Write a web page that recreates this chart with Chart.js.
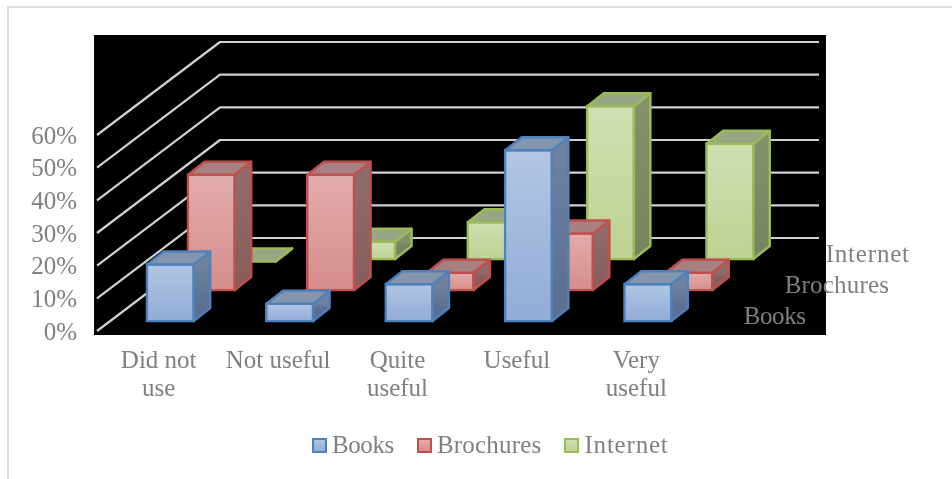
<!DOCTYPE html>
<html>
<head>
<meta charset="utf-8">
<title>Usefulness of sources</title>
<script src="https://cdn.jsdelivr.net/npm/chart.js@4/dist/chart.umd.min.js"></script>
<style>
    html, body { margin: 0; padding: 0; background: #fff; overflow: hidden; }
    #frame { position: absolute; left: 7px; top: 6px; width: 945px; height: 473px; border-top: 2px solid #dcdcdc; border-left: 2px solid #dcdcdc; box-sizing: border-box; }
    #chart { position: absolute; left: 0; top: 0; }
    #legend { position: absolute; left: 312px; top: 428px; display: flex; font: 25px "Liberation Serif", serif; color: #808080; line-height: 34px; }
    #legend span.item { display: flex; align-items: center; margin-right: 23px; }
    #legend i { display: block; width: 15px; height: 15px; box-sizing: border-box; border: 2px solid; margin-right: 5px; }
</style>
</head>
<body>
<div id="frame"></div>
<canvas id="chart" width="952" height="479"></canvas>
<div id="legend"></div>
<script>
// data
const categories = [['Did not', 'use'], 'Not useful', ['Quite', 'useful'], 'Useful', ['Very', 'useful']];
const seriesNames = ['Books', 'Brochures', 'Internet'];
const books = [18, 6, 12, 53, 12];
const brochures = [36, 36, 6, 18, 6];
const internet = [0, 6, 12, 47.5, 36];

// front face top/bottom, side top/bottom, lid, outline
const PALETTE = [
    { top: '#b2c6e4', bottom: '#92acd6', sideTop: '#6f819d', sideBottom: '#5b6f90', lid: '#8495ae', line: '#4f81bd' },
    { top: '#e2adac', bottom: '#d58d8b', sideTop: '#8f6c6b', sideBottom: '#875e5c', lid: '#a78182', line: '#c0504d' },
    { top: '#d1dfb3', bottom: '#bcd292', sideTop: '#83906c', sideBottom: '#768560', lid: '#98a684', line: '#9bbb59' }
];

const FONT = { family: '"Liberation Serif", serif', size: 25, lineHeight: 1.12 };
const TEXT = '#808080';
const NAME_SPACING = ['-0.4px', '0.2px', '0.8px']; // the serif here runs a little narrower than the original
const LIFT = -2;                         // marks sit slightly above the tick label centres
const WALL = { dx: 123, dy: -93 };       // how far the back wall sits from the front edge
const ROW = (i) => (i + 0.285) / 3;      // where a series row sits along that depth
const BOX = { dx: 16.5, dy: -13 };       // depth of one bar
const EDGE = 2.5;

function rowShift(i) {
    return { x: WALL.dx * ROW(i), y: WALL.dy * ROW(i) + LIFT };
}

function faceGradient(c, pal) {
    const chart = c.chart;
    if (!chart.chartArea || c.raw === undefined) return pal.top;
    const y = chart.scales.y;
    const g = chart.ctx.createLinearGradient(0, y.getPixelForValue(c.raw), 0, y.getPixelForValue(0));
    g.addColorStop(0, pal.top);
    g.addColorStop(1, pal.bottom);
    return g;
}

const depthPlugin = {
    id: 'depth',
    beforeDraw(chart) {
        const { ctx, chartArea: a } = chart;
        ctx.save();
        ctx.fillStyle = '#000';
        ctx.fillRect(a.left - 5, 35, a.right + 130 - (a.left - 5), a.bottom + 2 - 35);
        ctx.restore();
    },
    beforeDatasetsDraw(chart) {
        const { ctx, chartArea: a, scales } = chart;
        ctx.save();
        ctx.strokeStyle = '#d0d0d0';
        ctx.lineWidth = 2.2;
        ctx.lineJoin = 'round';
        scales.y.ticks.forEach(t => {
            const y = scales.y.getPixelForValue(t.value) + LIFT;
            ctx.beginPath();
            ctx.moveTo(a.left - 2, y);
            ctx.lineTo(a.left - 2 + WALL.dx, y + WALL.dy);
            ctx.lineTo(a.right + WALL.dx, y + WALL.dy);
            ctx.stroke();
        });
        ctx.restore();
    },
    beforeDatasetDraw(chart, args) {
        const s = rowShift(args.index);
        chart.ctx.save();
        chart.ctx.translate(s.x, s.y);
    },
    afterDatasetDraw(chart, args) {
        const ctx = chart.ctx;
        const pal = PALETTE[args.index];
        ctx.strokeStyle = pal.line;
        ctx.lineWidth = EDGE;
        ctx.lineJoin = 'round';
        args.meta.data.forEach(bar => {
            const { x, y, base, width } = bar.getProps(['x', 'y', 'base', 'width'], true);
            const l = x - width / 2 + EDGE / 2, r = x + width / 2 - EDGE / 2;
            const t = y + EDGE / 2, b = base - EDGE / 2 < t ? t : base - EDGE / 2;

            const g = ctx.createLinearGradient(0, t, 0, b + BOX.dy);
            g.addColorStop(0, pal.sideTop);
            g.addColorStop(1, pal.sideBottom);
            ctx.fillStyle = g;
            ctx.beginPath();
            ctx.moveTo(r, t);
            ctx.lineTo(r + BOX.dx, t + BOX.dy);
            ctx.lineTo(r + BOX.dx, b + BOX.dy);
            ctx.lineTo(r, b);
            ctx.closePath();
            ctx.fill();
            ctx.stroke();

            ctx.fillStyle = pal.lid;
            ctx.beginPath();
            ctx.moveTo(l, t);
            ctx.lineTo(l + BOX.dx, t + BOX.dy);
            ctx.lineTo(r + BOX.dx, t + BOX.dy);
            ctx.lineTo(r, t);
            ctx.closePath();
            ctx.fill();
            ctx.stroke();
        });
        ctx.restore();
    },
    afterDraw(chart) {
        // series names along the depth axis
        const { ctx, chartArea: a } = chart;
        ctx.save();
        ctx.font = `${FONT.size}px ${FONT.family}`;
        ctx.fillStyle = TEXT;
        ctx.textBaseline = 'middle';
        ctx.textAlign = 'left';
        seriesNames.forEach((name, i) => {
            const s = rowShift(i);
            ctx.letterSpacing = NAME_SPACING[i];
            ctx.fillText(name, a.right + s.x + 36, a.bottom + s.y - 5);
        });
        ctx.restore();
    }
};

function dataset(label, data, i) {
    return {
        label,
        data,
        clip: false,
        backgroundColor: c => faceGradient(c, PALETTE[i]),
        borderColor: PALETTE[i].line,
        borderWidth: EDGE,
        borderSkipped: false
    };
}

new Chart(document.getElementById('chart'), {
    type: 'bar',
    data: {
        labels: categories,
        datasets: [
            dataset(seriesNames[0], books, 0),
            dataset(seriesNames[1], brochures, 1),
            dataset(seriesNames[2], internet, 2)
        ]
    },
    options: {
        responsive: false,
        animation: false,
        layout: { padding: { top: 137, right: 256, bottom: 0, left: 0 } },
        datasets: { bar: { grouped: false, barThickness: 49 } },
        plugins: {
            legend: { display: false },
            tooltip: { enabled: false }
        },
        scales: {
            x: {
                afterFit: s => { s.height = 146; },
                grid: { display: false, drawTicks: false },
                border: { display: false },
                ticks: { color: TEXT, font: FONT, padding: 14, maxRotation: 0, autoSkip: false }
            },
            y: {
                min: 0,
                max: 60,
                afterFit: s => { s.width = 99; },
                grid: { display: false, drawTicks: false },
                border: { display: false },
                ticks: { stepSize: 10, color: TEXT, font: FONT, padding: 22, callback: v => v + '%' }
            }
        }
    },
    plugins: [depthPlugin]
});

// legend sits tighter to its swatches than the built-in one allows
const legend = document.getElementById('legend');
seriesNames.forEach((name, i) => {
    const item = document.createElement('span');
    item.className = 'item';
    item.style.letterSpacing = NAME_SPACING[i];
    const box = document.createElement('i');
    box.style.borderColor = PALETTE[i].line;
    box.style.background = `linear-gradient(${PALETTE[i].top}, ${PALETTE[i].bottom})`;
    item.appendChild(box);
    item.appendChild(document.createTextNode(name));
    legend.appendChild(item);
});
</script>
</body>
</html>
